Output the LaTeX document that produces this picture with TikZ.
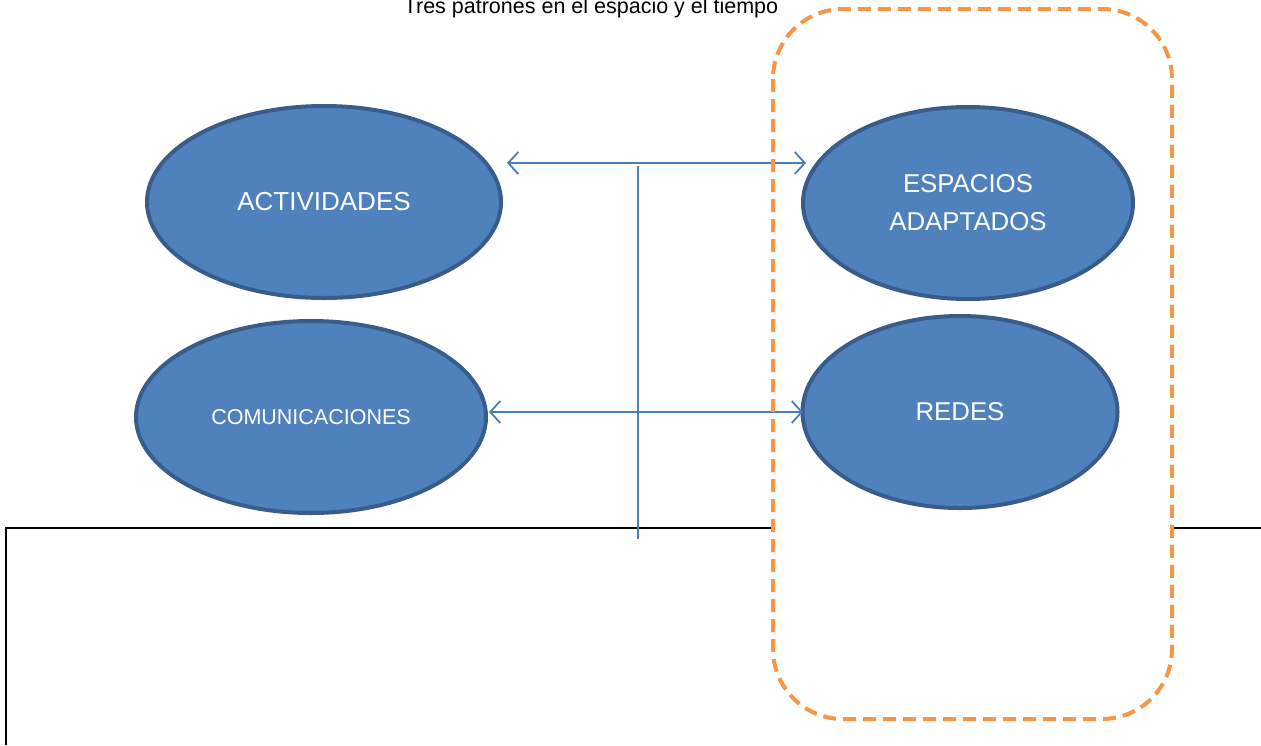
\documentclass[tikz,border=0pt]{standalone}
\usepackage{fontspec}
\setmainfont{Liberation Sans}
\usetikzlibrary{shapes.geometric,arrows.meta}
\definecolor{ellfill}{HTML}{4F81BD}
\definecolor{elldraw}{HTML}{385D8A}
\definecolor{arrowc}{HTML}{4A7EBB}
\definecolor{boxc}{HTML}{F79646}
\tikzset{
  oval/.style={ellipse, fill=ellfill, draw=elldraw, line width=4pt, text=white, inner sep=0pt, align=center},
  link/.style={draw=arrowc, line width=1.8pt, {Straight Barb[length=10pt,width=22pt,line width=1.8pt]}-{Straight Barb[length=10pt,width=22pt,line width=1.8pt]}},
  vline/.style={draw=arrowc, line width=1.8pt},
  frame/.style={draw=black, line width=2pt},
}
\begin{document}
\begin{tikzpicture}[x=1pt,y=-1pt]
\useasboundingbox (0,0) rectangle (1261,745);
% black frame line
\coordinate (f1) at (6,745);
\coordinate (f2) at (6,528);
\coordinate (f3) at (1262,528);
\draw[frame] (f1) -- (f2) -- (f3);
% box fill
\fill[white, rounded corners=70pt] (773,9) rectangle (1172,719);
% title
\node[font=\fontsize{21.5}{24}\selectfont, anchor=base] (title) at (591,13) {Tres patrones en el espacio y el tiempo};
% ellipses
\node[oval, minimum width=354pt, minimum height=192pt, font=\fontsize{26}{30}\selectfont] (act) at (324,202) {ACTIVIDADES};
\node[oval, minimum width=350pt, minimum height=192pt, font=\fontsize{21.5}{26}\selectfont] (com) at (311,417) {COMUNICACIONES};
\node[oval, minimum width=330pt, minimum height=192pt, font=\fontsize{25.8}{38}\selectfont] (esp) at (968,203) {ESPACIOS\\ADAPTADOS};
\node[oval, minimum width=315pt, minimum height=192pt, font=\fontsize{25.8}{30}\selectfont] (red) at (960,412) {REDES};
% arrows
\coordinate (a1l) at (507,163);
\coordinate (a1r) at (806,163);
\coordinate (a2l) at (489,412);
\coordinate (a2r) at (803,412);
\draw[link] (a1l) -- (a1r);
\draw[link] (a2l) -- (a2r);
\coordinate (v1) at (638,166);
\coordinate (v2) at (638,539);
\draw[vline] (v1) -- (v2);
% dashed border
\draw[boxc, line width=4pt, dash pattern=on 13pt off 7pt, rounded corners=70pt] (773,9) rectangle (1172,719);
\end{tikzpicture}
\end{document}
